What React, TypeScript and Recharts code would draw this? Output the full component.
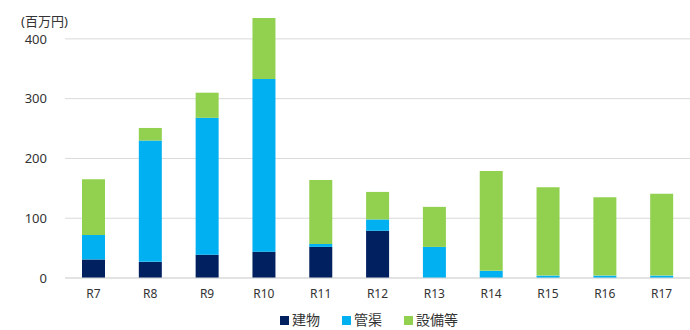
import React from "react";
import { BarChart, Bar, XAxis, YAxis, CartesianGrid } from "recharts";

const categories = ["R7", "R8", "R9", "R10", "R11", "R12", "R13", "R14", "R15", "R16", "R17"];
const buildings = [31, 27, 39, 44, 52, 79, 0, 0, 0, 0, 0];
const pipes = [41, 203, 229, 289, 5, 19, 52, 12, 4, 4, 4];
const equipment = [93, 21, 42, 102, 107, 46, 67, 167, 148, 131, 137];
const yTicks = [0, 100, 200, 300, 400];

const seriesNames = ["建物", "管渠", "設備等"];
const colors = ["#002060", "#00B0F0", "#92D050"];

const data = categories.map((c, i) => ({
  name: c,
  b: buildings[i],
  p: pipes[i],
  e: equipment[i],
}));

const FONT = "'Noto Sans', 'Noto Sans CJK JP', sans-serif";

export default function App() {
  return (
    <div style={{ position: "absolute", left: 0, top: 0, width: 690, height: 330, background: "#fff" }}>
      <div
        style={{
          position: "absolute",
          left: 21,
          top: 15,
          fontFamily: FONT,
          fontSize: 13,
          lineHeight: "13px",
          color: "#333",
          whiteSpace: "nowrap",
        }}
      >
        (百万円)
      </div>
      <BarChart width={690} height={330} data={data} margin={{ top: 9, right: 0, left: 0, bottom: 30 }} barSize={23}>
        <CartesianGrid vertical={false} stroke="#d9d9d9" horizontalValues={yTicks} />
        <XAxis
          dataKey="name"
          height={22}
          axisLine={{ stroke: "#d9d9d9" }}
          tickLine={false}
          tickSize={0}
          tickMargin={11}
          tick={{ fill: "#333", fontSize: 12, fontFamily: FONT }}
          interval={0}
        />
        <YAxis
          width={65}
          domain={[0, 450]}
          ticks={yTicks}
          axisLine={false}
          tickLine={false}
          tickSize={0}
          tickMargin={18}
          tick={{ fill: "#333", fontSize: 13, fontFamily: FONT }}
          interval={0}
        />
        <Bar dataKey="b" name={seriesNames[0]} stackId="a" fill={colors[0]} isAnimationActive={false} />
        <Bar dataKey="p" name={seriesNames[1]} stackId="a" fill={colors[1]} isAnimationActive={false} />
        <Bar dataKey="e" name={seriesNames[2]} stackId="a" fill={colors[2]} isAnimationActive={false} />
      </BarChart>
      <div
        style={{
          position: "absolute",
          left: 56,
          width: 626,
          top: 312,
          height: 16,
          display: "flex",
          justifyContent: "center",
          alignItems: "center",
          fontFamily: FONT,
          fontSize: 14,
          lineHeight: "16px",
          color: "#333",
          whiteSpace: "nowrap",
        }}
      >
        {seriesNames.map((n, i) => (
          <div key={n} style={{ display: "flex", alignItems: "center", marginRight: i < 2 ? 22 : 0 }}>
            <span style={{ width: 9, height: 9, background: colors[i], display: "inline-block", marginRight: 3 }} />
            <span>{n}</span>
          </div>
        ))}
      </div>
    </div>
  );
}
